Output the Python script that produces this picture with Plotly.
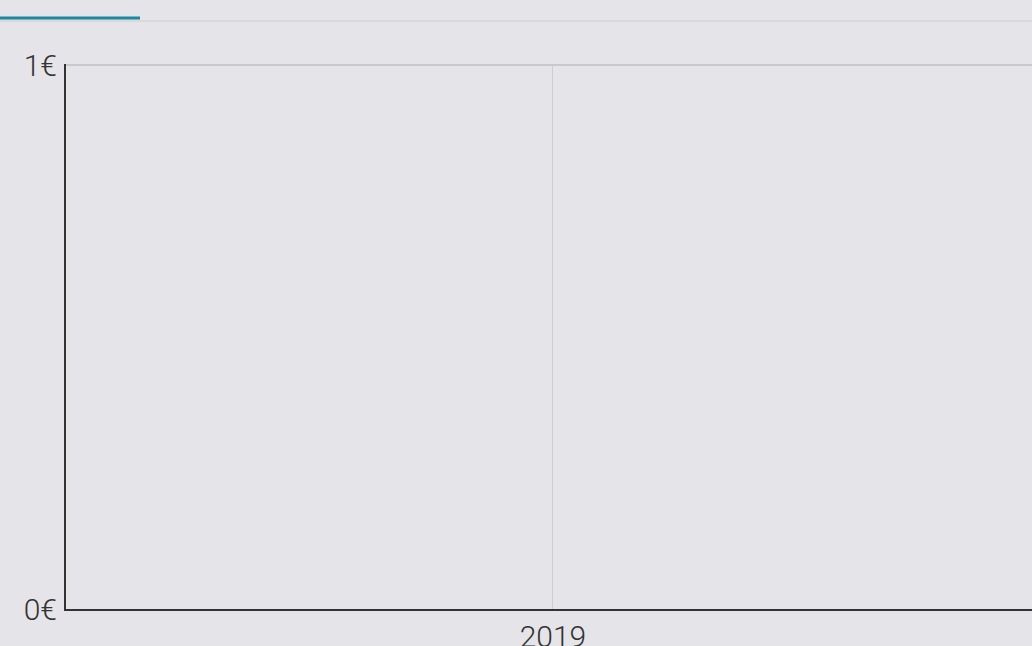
import plotly.graph_objects as go

# Data (the chart shows no series values)
dates = []
values = []
x_tick_vals = ["2019-01-01"]
x_tick_text = ["2019"]
y_tick_vals = [0, 1]
y_tick_text = ["0€", "1€"]

BG = "#e5e4e9"
W, H = 1032, 646
ML, MT, MB, MR = 66, 64, 37, 0
pw, ph = W - ML - MR, H - MT - MB
Y_TOP = 1.002

def px_x(p):
    return (p - ML) / pw

def px_y(p):
    return (H - MB - p) / ph

fig = go.Figure()
fig.add_trace(go.Scatter(x=dates, y=values, mode="lines",
                         line=dict(color="#1c87a0", width=3), showlegend=False))

fig.update_layout(
    width=W, height=H,
    margin=dict(l=ML, r=MR, t=MT, b=MB, pad=0, autoexpand=False),
    paper_bgcolor=BG, plot_bgcolor=BG,
    font=dict(family="Roboto", size=30, color="#333333", weight=300),
    showlegend=False,
    xaxis=dict(
        type="date",
        range=["2018-07-01", "2019-07-01"],
        tickvals=x_tick_vals, ticktext=x_tick_text,
        showgrid=True, gridcolor="#cdcdd2", gridwidth=1,
        showline=True, linecolor="#333333", linewidth=2,
        zeroline=False, ticks="", fixedrange=True, automargin=False,
    ),
    yaxis=dict(
        range=[0, Y_TOP],
        tickvals=y_tick_vals, ticktext=y_tick_text,
        showgrid=True, gridcolor="#c8c8cd", gridwidth=2,
        showline=True, linecolor="#333333", linewidth=2,
        zeroline=False, ticks="", ticklabelstandoff=1, fixedrange=True,
        automargin=False,
    ),
    shapes=[
        dict(type="line", xref="paper", yref="paper",
             x0=px_x(0), x1=px_x(W), y0=px_y(21), y1=px_y(21),
             line=dict(color="#d4d4d9", width=1.5)),
        dict(type="line", xref="paper", yref="paper",
             x0=px_x(0), x1=px_x(140), y0=px_y(18), y1=px_y(18),
             line=dict(color="#1c87a0", width=3)),
    ],
)

fig.write_html("out.html", config={"displayModeBar": False},
               post_script="document.body.style.margin='0';document.body.style.overflow='hidden';")
